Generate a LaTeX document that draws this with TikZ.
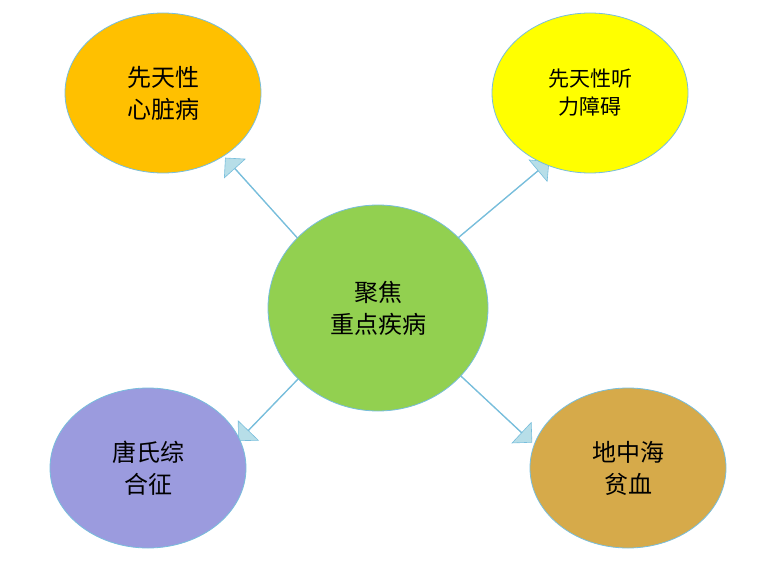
\documentclass[tikz,border=0pt]{standalone}
\usepackage{fontspec}
\setmainfont{Noto Sans CJK SC}
\usetikzlibrary{shapes.geometric,shapes.arrows}
\definecolor{rimblue}{RGB}{120,190,220}
\definecolor{arrowfill}{RGB}{183,222,232}
\tikzset{
  disease/.style={ellipse, draw=rimblue, line width=0.8pt, minimum width=196pt, minimum height=160pt, align=center, font=\fontsize{24}{32}\selectfont},
  fatarrow/.style={single arrow, draw=rimblue, fill=arrowfill, line width=0.6pt, minimum width=28pt, single arrow head extend=11pt, single arrow head indent=0pt, inner sep=0pt}
}
\begin{document}
\begin{tikzpicture}[x=1pt,y=-1pt]
    \useasboundingbox (0,0) rectangle (783,561);

    % arrows
    \node (aTL) [fatarrow, minimum height=118pt, rotate=132] at (265,202) {};
    \node (aTR) [fatarrow, minimum height=122pt, rotate=40] at (502,201) {};
    \node (aBL) [fatarrow, minimum height=96pt, rotate=226] at (272,406) {};
    \node (aBR) [fatarrow, minimum height=106pt, rotate=-43] at (493,406) {};

    % ellipses
    \node (chd) [disease, fill={rgb,255:red,255;green,192;blue,0}] at (163,93) {先天性\\心脏病};
    \node (hear) [disease, fill={rgb,255:red,255;green,255;blue,0}, font=\fontsize{21}{28}\selectfont] at (590,93) {先天性听\\力障碍};
    \node (focus) [disease, fill={rgb,255:red,146;green,208;blue,80}, minimum width=220pt, minimum height=206pt] at (378,308) {聚焦\\重点疾病};
    \node (down) [disease, fill={rgb,255:red,155;green,155;blue,222}] at (148,468) {唐氏综\\合征};
    \node (thal) [disease, fill={rgb,255:red,214;green,170;blue,74}] at (628,468) {地中海\\贫血};
\end{tikzpicture}
\end{document}
